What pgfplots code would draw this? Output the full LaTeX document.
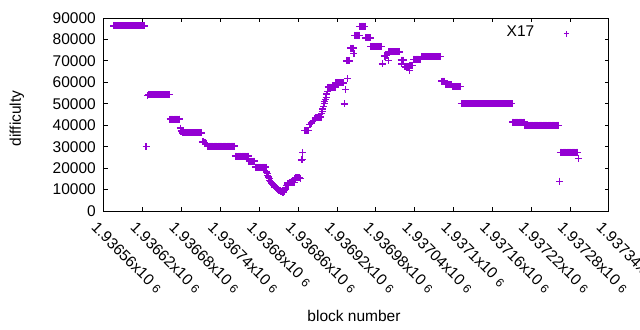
\documentclass[border=0pt]{standalone}
\usepackage{fontspec}
\setmainfont{Liberation Sans}
\usepackage{pgfplots}
\pgfplotsset{compat=1.18}
\definecolor{gpviolet}{HTML}{9400D3}
\newcommand{\sixp}{\ {\fontsize{12bp}{12bp}\selectfont 6}}
\begin{document}
\fontsize{15.5bp}{18bp}\selectfont
\begin{tikzpicture}
\useasboundingbox (-104bp,-119bp) rectangle (536bp,211bp);
\begin{axis}[
 at={(0,0)}, anchor=south west,
 scale only axis, width=505bp, height=193bp,
 xmin=0, xmax=780, ymin=0, ymax=90000,
 scaled y ticks=false, scaled x ticks=false,
 axis line style={line width=1bp},
 every tick/.style={black, line width=1bp},
 major tick length=4bp, tick align=inside,
 xtick={0,60,...,780},
 xticklabels={1.93656x10\sixp,1.93662x10\sixp,1.93668x10\sixp,1.93674x10\sixp,1.9368x10\sixp,1.93686x10\sixp,1.93692x10\sixp,1.93698x10\sixp,1.93704x10\sixp,1.9371x10\sixp,1.93716x10\sixp,1.93722x10\sixp,1.93728x10\sixp,1.93734x10\sixp},
 ytick={0,10000,20000,30000,40000,50000,60000,70000,80000,90000},
 yticklabels={0,10000,20000,30000,40000,50000,60000,70000,80000,90000},
 yticklabel style={anchor=east, inner sep=0pt, xshift=-8bp},
 xticklabel style={rotate=-45, anchor=north west, inner sep=0pt, yshift=-11bp, xshift=3bp},
 xlabel={block number}, ylabel={difficulty},
 every axis x label/.style={at={(axis description cs:0.495,-0.5725)}, anchor=base},
 every axis y label/.style={at={(axis description cs:-0.1723,0.48)}, rotate=90, anchor=center},
 legend plot pos=right,
 legend style={draw=none, fill=none, inner sep=0pt, outer sep=0pt, nodes={inner sep=0pt}, at={(axis description cs:0.9212,0.9245)}, anchor=east},
 legend image code/.code={\path (0bp,0bp); \draw[#1, mark size=2.7bp, mark options={line width=1bp}] plot coordinates {(32bp,-1.3bp)};},
]
% x = block number - 1936560 (tick labels give the block numbers)
\addplot[only marks, mark=+, color=gpviolet, mark size=3.5bp, mark options={line width=1.3bp}] coordinates {
(15,86300)(17,86300)(19,86300)(21,86300)(23,86300)(25,86300)(27,86300)(29,86300)(31,86300)(33,86300)(35,86300)(37,86300)(39,86300)(41,86300)(43,86300)(45,86300)(47,86300)(49,86300)(51,86300)(53,86300)(55,86300)(57,86300)(59,86300)(61,86300)(62,86300)
(65,30000)
(67,53800)(69,54200)(71,54200)(73,54200)(75,54200)(77,54200)(79,54200)(81,54200)(83,54200)(85,54200)(87,54200)(89,54200)(91,54200)(93,54200)(95,54200)(97,54200)(99,54200)(101,54200)
(102,42900)(104,42900)(106,42900)(108,42900)(110,42900)(112,42900)(114,42900)(116,42900)(117,42900)
(118,38700)(119,37300)(121,36400)(123,36400)(125,36400)(127,36400)(129,36400)(131,36400)(133,36400)(135,36400)(137,36400)(139,36400)(141,36400)(143,36400)(145,36400)(147,36400)(149,36400)(151,36400)
(152,32200)(154,32200)(156,31900)(158,31600)
(160,30300)(162,30300)(164,30300)(166,30300)(168,30300)(170,30300)(172,30300)(174,30300)(176,30300)(178,30300)(180,30300)(182,30300)(184,30300)(186,30300)(188,30300)(190,30300)(192,30300)(194,30300)(196,30300)(198,30300)(200,30300)(201,30300)
(203,25600)(205,25600)(207,25600)(209,25600)(211,25600)(213,25600)(215,25600)(217,25600)(219,25600)(221,25600)(223,25600)
(224,23300)(226,23300)(228,23300)(230,23300)(232,23300)
(234,20450)(236,20450)(238,20450)(240,20450)(242,20450)(244,20450)(246,20450)(248,20450)(250,20450)
(251,18200)(252,17500)(253,16600)(254,15800)(255,15000)(256,14300)(257,13800)(258,13400)(259,13000)(260,12600)(261,12200)(262,11800)(263,11500)(264,11200)(265,11000)(266,10800)(267,10500)(268,10200)(269,9900)(270,9700)(271,9500)(272,9400)(273,9200)(274,9100)(275,8900)(276,8600)
(277,8800)(278,9200)(279,9700)(280,10300)(281,11000)(282,11900)(283,12500)(284,13000)(286,13300)(288,13300)(290,13300)(292,13300)(294,13300)(295,15000)(296,15400)(298,15400)(300,15400)(302,15400)(304,15300)
(305,23800)(306,24000)(307,27200)
(310,37400)(312,37400)(314,37400)(316,37400)
(318,40500)(320,41000)(322,41700)(324,42300)(326,43000)(327,43600)(329,43600)(331,43600)(333,43600)(335,43800)(336,45500)(337,46500)(338,47500)(339,48700)(340,50000)(341,51000)(342,52000)(343,53000)(344,54500)(345,55600)
(346,57800)(348,57800)(350,57800)(352,57800)(354,57800)(356,57800)(357,57800)
(358,59700)(360,59700)(362,59700)(364,59700)(366,59700)(368,59700)(370,59700)
(371,49900)(373,56600)(376,61700)
(375,70000)(377,70000)(379,70000)
(381,76000)(383,76000)(385,76000)(386,73500)
(387,82000)(389,82000)(391,82000)(393,82000)(394,82000)
(395,86200)(397,86200)(399,86200)(401,86200)(403,86200)
(404,80700)(406,80700)(408,80700)(410,80700)(411,80700)
(412,76800)(414,76800)(416,76800)(418,76800)(420,76800)(422,76800)(424,76800)(426,76800)(428,76800)
(430,68600)(434,72100)(433,72600)(435,72600)(437,72600)(439,70100)
(439,74200)(441,74200)(443,74200)(445,74200)(447,74200)(449,74200)(451,74200)(453,74200)(455,74200)(456,74200)
(459,70400)(461,70400)(463,70400)(460,68600)
(465,67200)(467,67200)(469,67200)(471,67200)(472,65400)
(472,67800)(474,67800)(476,67800)
(478,70800)(480,70800)(482,70800)(484,70800)(486,70800)(488,70800)(489,70800)
(491,71900)(493,71900)(495,71900)(497,71900)(499,71900)(501,71900)(503,71900)(505,71900)(507,71900)(509,71900)(511,71900)(513,71900)(515,71900)(517,71900)(519,71900)(520,71900)
(522,60600)(524,60600)(526,60600)
(527,58900)(529,58900)(531,58900)(533,58900)(535,58900)(537,58900)
(538,57900)(540,57900)(542,57900)(544,57900)(546,57900)(548,57900)(550,57900)
(552,50000)(554,50000)(556,50000)(558,50000)(560,50000)(562,50000)(564,50000)(566,50000)(568,50000)(570,50000)(572,50000)(574,50000)(576,50000)(578,50000)(580,50000)(582,50000)(584,50000)(586,50000)(588,50000)(590,50000)(592,50000)(594,50000)(596,50000)(598,50000)(600,50000)(602,50000)(604,50000)(606,50000)(608,50000)(610,50000)(612,50000)(614,50000)(616,50000)(618,50000)(620,50000)(622,50000)(624,50000)(626,50000)(628,50000)(630,50000)
(631,41500)(633,41500)(635,41500)(637,41500)(639,41500)(641,41500)(643,41500)(645,41500)(647,41500)(649,41500)
(650,40000)(652,40000)(654,40000)(656,40000)(658,40000)(660,40000)(662,40000)(664,40000)(666,40000)(668,40000)(670,40000)(672,40000)(674,40000)(676,40000)(678,40000)(680,40000)(682,40000)(684,40000)(686,40000)(688,40000)(690,40000)(692,40000)(694,40000)(696,40000)(698,40000)(700,40000)(702,40000)
(704,13900)
(705,27400)(707,27400)(709,27400)(711,27400)(713,27400)(715,27400)(717,27400)(719,27400)(721,27400)(723,27400)(725,27400)(727,27400)(729,27400)(731,27400)
(733,24600)
};
\addlegendentry{X17}
\end{axis}
\end{tikzpicture}
\end{document}
